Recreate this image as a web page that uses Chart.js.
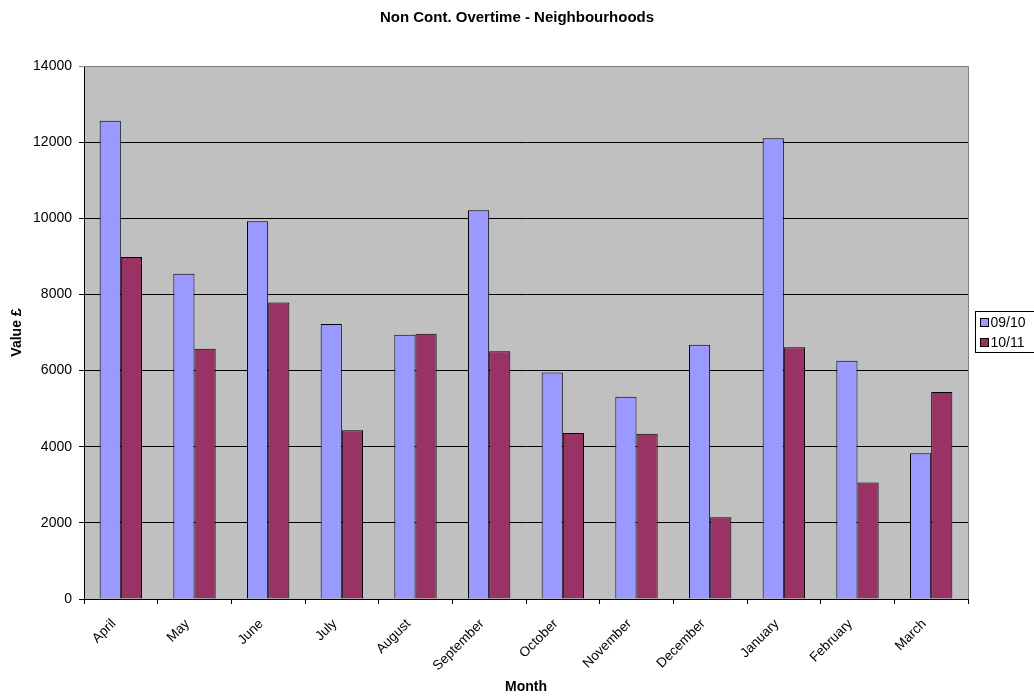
<!DOCTYPE html>
<html>
<head>
<meta charset="utf-8">
<title>Non Cont. Overtime - Neighbourhoods</title>
<script src="https://cdn.jsdelivr.net/npm/chart.js@4/dist/chart.umd.min.js"></script>
<style>
    html, body { margin: 0; padding: 0; background: #fff; }
    #wrap { width: 1034px; height: 698px; }
</style>
</head>
<body>
<div id="wrap"><canvas id="Chart" width="1034" height="698"></canvas></div>
<script>
const months = ['April', 'May', 'June', 'July', 'August', 'September', 'October', 'November', 'December', 'January', 'February', 'March'];
const values0910 = [12560, 8540, 9920, 7220, 6940, 10210, 5950, 5310, 6680, 12100, 6260, 3830];
const values1011 = [8980, 6570, 7790, 4430, 6970, 6510, 4360, 4340, 2150, 6610, 3060, 5440];
const yTicks = [0, 2000, 4000, 6000, 8000, 10000, 12000, 14000];

document.addEventListener("DOMContentLoaded", function () {

    Chart.defaults.font.family = "'Liberation Sans', Arial, sans-serif";
    Chart.defaults.color = '#000';

    // grey plot area with the grey frame on top / right
    const plotBackground = {
        id: 'plotBackground',
        beforeDraw(chart) {
            const { ctx, chartArea: a } = chart;
            ctx.save();
            ctx.fillStyle = '#c0c0c0';
            ctx.fillRect(a.left, a.top, a.right - a.left, a.bottom - a.top);
            ctx.restore();
        },
        afterDraw(chart) {
            const { ctx, chartArea: a } = chart;
            ctx.save();
            ctx.strokeStyle = '#808080';
            ctx.lineWidth = 1;
            ctx.beginPath();
            ctx.moveTo(a.left, a.top + 0.5);
            ctx.lineTo(a.right + 0.5, a.top + 0.5);
            ctx.lineTo(a.right + 0.5, a.bottom);
            ctx.stroke();
            ctx.restore();
        }
    };

    // boxed legend to the right of the plot, like the spreadsheet one
    const boxLegend = {
        id: 'boxLegend',
        afterDraw(chart) {
            const ctx = chart.ctx;
            const sets = chart.data.datasets;
            const left = chart.chartArea.right + 7.5;
            const top = 311.5;
            ctx.save();
            ctx.fillStyle = '#fff';
            ctx.strokeStyle = '#000';
            ctx.lineWidth = 1;
            ctx.fillRect(left, top, 70, 41);
            ctx.strokeRect(left, top, 70, 41);
            ctx.font = "14px 'Liberation Sans', Arial, sans-serif";
            ctx.textBaseline = 'middle';
            sets.forEach((ds, i) => {
                const cy = top + 11 + i * 20;
                ctx.fillStyle = ds.backgroundColor;
                ctx.fillRect(left + 5, cy - 4, 8, 8);
                ctx.strokeRect(left + 5, cy - 4, 8, 8);
                ctx.fillStyle = '#000';
                ctx.fillText(ds.label, left + 15, cy + 0.5);
            });
            ctx.restore();
        }
    };

    const config = {
        type: 'bar',
        data: {
            labels: months,
            datasets: [{
                label: '09/10',
                data: values0910,
                backgroundColor: '#9999ff',
                borderColor: '#000',
                borderWidth: 1,
                categoryPercentage: 0.575,
                barPercentage: 1
            }, {
                label: '10/11',
                data: values1011,
                backgroundColor: '#993366',
                borderColor: '#000',
                borderWidth: 1,
                categoryPercentage: 0.575,
                barPercentage: 1
            }]
        },
        options: {
            responsive: false,
            animation: false,
            layout: {
                padding: 0
            },
            plugins: {
                legend: { display: false },
                tooltip: { enabled: false },
                title: {
                    display: true,
                    text: 'Non Cont. Overtime - Neighbourhoods',
                    color: '#000',
                    font: { size: 15, weight: 'bold' },
                    padding: { top: 9, bottom: 39 }
                }
            },
            scales: {
                x: {
                    grid: {
                        offset: true,
                        drawOnChartArea: false,
                        drawTicks: true,
                        tickLength: 5,
                        color: '#000'
                    },
                    border: { display: true, color: '#000', width: 1 },
                    ticks: {
                        minRotation: 45,
                        maxRotation: 45,
                        padding: 12,
                        labelOffset: -7,
                        font: { size: 13.5 },
                        color: '#000'
                    },
                    title: {
                        display: true,
                        text: 'Month',
                        font: { size: 14, weight: 'bold' },
                        padding: { top: 0, bottom: 2 }
                    },
                    afterFit(scale) { scale.height = 99; }
                },
                y: {
                    min: 0,
                    max: 14000,
                    afterBuildTicks(scale) {
                        scale.ticks = yTicks.map(v => ({ value: v }));
                    },
                    grid: {
                        color: ctx => (ctx.tick && ctx.tick.value === 14000) ? '#808080' : '#000',
                        tickLength: 5,
                        lineWidth: 1
                    },
                    border: { display: true, color: '#000', width: 1 },
                    ticks: {
                        padding: 7,
                        font: { size: 14 },
                        color: '#000',
                        callback: v => String(v)
                    },
                    title: {
                        display: true,
                        text: 'Value £',
                        font: { size: 14, weight: 'bold' },
                        padding: { top: 9, bottom: 0 }
                    },
                    afterFit(scale) { scale.width = 84; }
                },
                // empty strip on the right that leaves room for the legend
                side: {
                    position: 'right',
                    display: true,
                    grid: { display: false },
                    border: { display: false },
                    ticks: { display: false },
                    afterFit(scale) { scale.width = 66; }
                }
            }
        },
        plugins: [plotBackground, boxLegend]
    };

    new Chart(document.getElementById('Chart'), config);
});
</script>
</body>
</html>
